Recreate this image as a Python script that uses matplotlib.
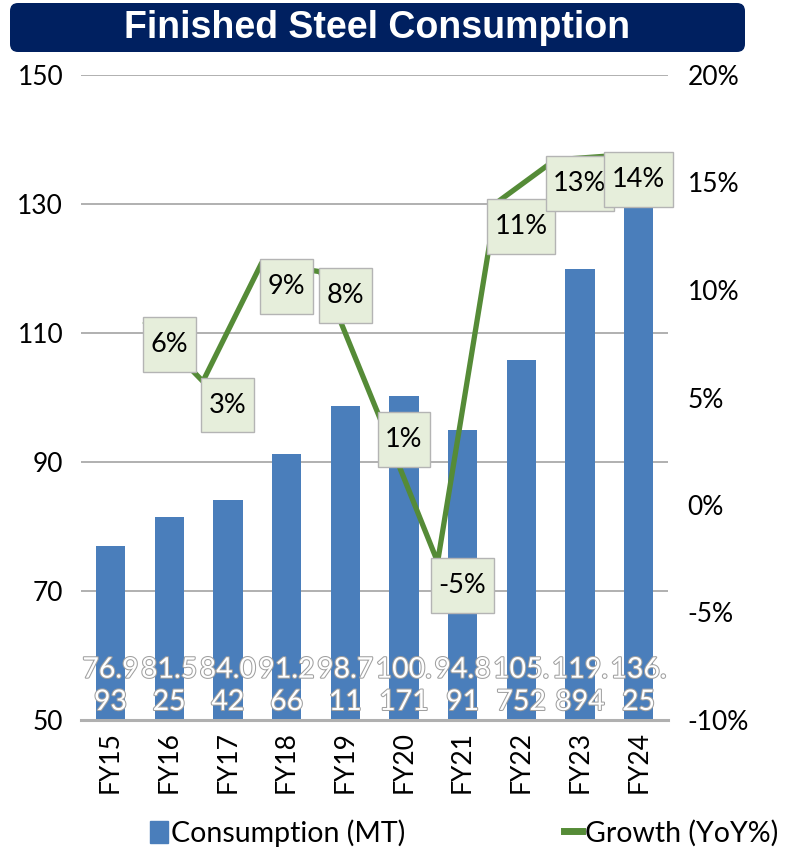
import matplotlib
matplotlib.use("Agg")
import matplotlib.pyplot as plt
import matplotlib.patheffects as pe
from matplotlib.patches import FancyBboxPatch, Patch
from matplotlib.lines import Line2D
from matplotlib.path import Path
from matplotlib.transforms import ScaledTranslation

# -----------------------------
# --- Dados
# -----------------------------
years = ["FY15", "FY16", "FY17", "FY18", "FY19", "FY20", "FY21", "FY22", "FY23", "FY24"]
consumption = [76.993, 81.525, 84.042, 91.266, 98.711, 100.171, 94.891, 105.752, 119.894, 136.25]
growth_years = ["FY16", "FY17", "FY18", "FY19", "FY20", "FY21", "FY22", "FY23", "FY24"]
growth = [5.9, 3.1, 8.6, 8.2, 1.5, -5.3, 11.4, 13.4, 13.6]
growth_labels = ["6%", "3%", "9%", "8%", "1%", "-5%", "11%", "13%", "14%"]

# -----------------------------
# --- Estilo
# -----------------------------
BAR_COLOR = "#4a7ebb"
LINE_COLOR = "#558b37"
GRID_COLOR = "#b0b0b0"
TITLE_BG = "#002060"
FONT = "Lato"
FS = 19

plt.rcParams["font.family"] = [FONT, "DejaVu Sans"]


# caixa dos rótulos com margens diferentes em x e y
class LabelBox:
    def __init__(self, padx, pady):
        self.padx = padx
        self.pady = pady

    def __call__(self, x0, y0, width, height, mutation_size):
        px = self.padx * mutation_size
        py = self.pady * mutation_size
        x0, y0 = x0 - px, y0 - py
        x1, y1 = x0 + width + 2 * px, y0 + height + 2 * py
        return Path([(x0, y0), (x1, y0), (x1, y1), (x0, y1), (x0, y0)], closed=True)


fig = plt.figure(figsize=(7.89, 8.52), dpi=100)
ax = fig.add_axes([81.2 / 789, 1 - 720 / 852, (668 - 81.2) / 789, (720 - 75) / 852])
ax2 = ax.twinx()

# -----------------------------
# --- Barras
# -----------------------------
x = list(range(len(years)))
ax.bar(x, consumption, width=0.5, color=BAR_COLOR, zorder=2)
ax.set_ylim(50, 150)
ax.set_xlim(-0.5, len(years) - 0.5)
ax.set_yticks([50, 70, 90, 110, 130, 150])
ax.set_xticks(x)
ax.set_xticklabels(years, rotation=90, fontsize=FS)
ax.tick_params(axis="y", length=0, pad=13, labelsize=FS)
ax.tick_params(axis="x", length=0, pad=8)
ax.grid(axis="y", color=GRID_COLOR, linewidth=1.4, zorder=0)
ax.set_axisbelow(True)
for s in ["top", "left", "right"]:
    ax.spines[s].set_visible(False)
ax.spines["bottom"].set_color(GRID_COLOR)
ax.spines["bottom"].set_linewidth(2.2)

# rótulos das barras (quebrados em duas linhas)
for i, v in enumerate(consumption):
    s = repr(v)
    ax.text(i, 0.053, s[:4] + "\n" + s[4:], transform=ax.get_xaxis_transform(),
            ha="center", va="center", fontsize=20.5, color="white", linespacing=1.3,
            zorder=3, path_effects=[pe.withStroke(linewidth=1.5, foreground="#a0a0a0")])

# -----------------------------
# --- Linha de crescimento
# -----------------------------
gx = [years.index(y) for y in growth_years]
shift = ScaledTranslation(-0.25, 0.57, fig.dpi_scale_trans)
ax2.plot(gx, growth, color=LINE_COLOR, linewidth=3.8, solid_capstyle="butt",
         transform=ax2.transData + shift, zorder=4, clip_on=False)
ax2.set_ylim(-10, 20)
ax2.set_yticks([-10, -5, 0, 5, 10, 15, 20])
ax2.set_yticklabels([f"{t}%" for t in [-10, -5, 0, 5, 10, 15, 20]])
ax2.tick_params(axis="y", length=0, pad=14, labelsize=FS)
for s in ["top", "left", "right", "bottom"]:
    ax2.spines[s].set_visible(False)

for xi, g, lab in zip(gx, growth, growth_labels):
    ax2.annotate(lab, (xi, g), xytext=(0, 24), textcoords="offset points",
                 ha="center", va="center", fontsize=19.5, zorder=5,
                 bbox=dict(boxstyle=LabelBox(0.28, 0.55), fc="#e6eedb", ec="#b4b4b4", lw=1))

# -----------------------------
# --- Título
# -----------------------------
fig.add_artist(FancyBboxPatch((0.10, 8.00), 7.35, 0.49, boxstyle="round,pad=0,rounding_size=0.08",
                              transform=fig.dpi_scale_trans, fc=TITLE_BG, ec="none"))
fig.text(377.5 / 789, 1 - 28 / 852, "Finished Steel Consumption", ha="center", va="center",
         color="white", fontsize=27, fontweight="bold",
         family=["Liberation Sans Narrow", "Liberation Sans", "DejaVu Sans"])

# -----------------------------
# --- Legenda
# -----------------------------
handles = [Patch(color=BAR_COLOR), Line2D([0], [0], color=LINE_COLOR, linewidth=5)]
fig.legend(handles, ["Consumption (MT)", "Growth (YoY%)"], ncol=2, frameon=False,
           loc="center", bbox_to_anchor=(464 / 789, 1 - 833 / 852), fontsize=20.5,
           handlelength=0.62, handleheight=0.78, handletextpad=0.1, columnspacing=5.6,
           borderaxespad=0)

fig.savefig("out.png", dpi=100)
